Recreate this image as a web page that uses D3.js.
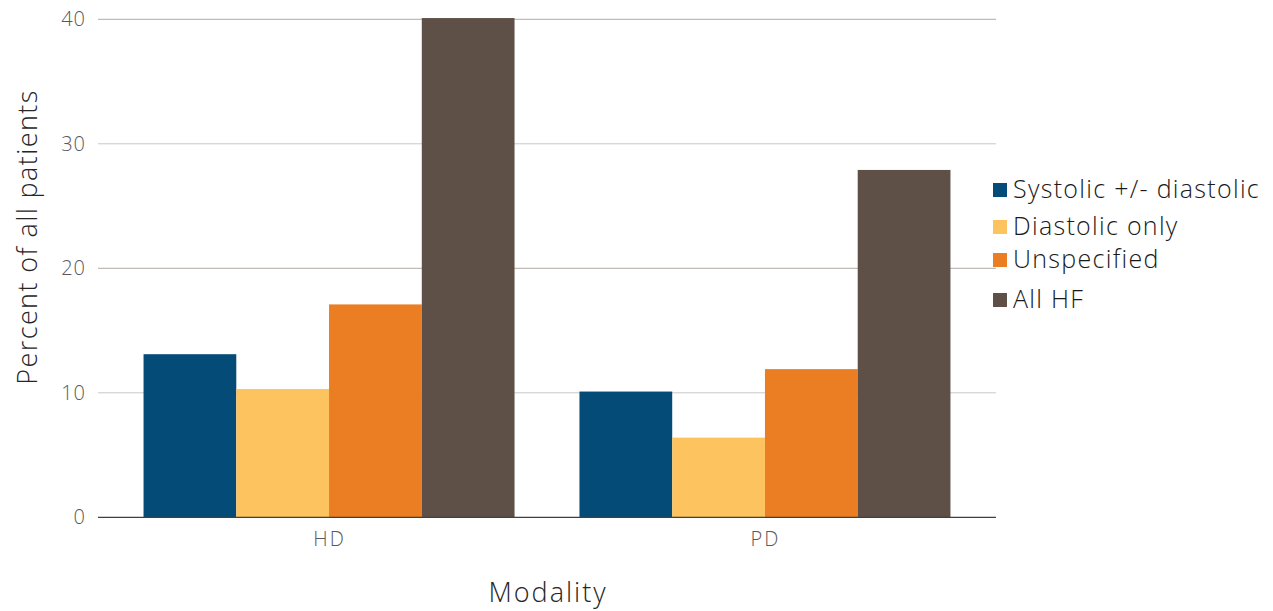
<!DOCTYPE html>
<html><head><meta charset="utf-8">
<script src="https://cdn.jsdelivr.net/npm/d3@7"></script>
<style>body{margin:0;background:#fff}svg{display:block}text{font-family:"Open Sans",sans-serif}</style>
</head><body><svg id="c" width="1273" height="611"></svg>
<script>
const categories = ["HD", "PD"];
const seriesNames = ["Systolic +/- diastolic", "Diastolic only", "Unspecified", "All HF"];
const systolic = [13.1, 10.1];
const diastolicOnly = [10.3, 6.4];
const unspecified = [17.1, 11.9];
const allHF = [40.1, 27.9];
const yTicks = [0, 10, 20, 30, 40];
const colors = ["#054b77", "#fdc35f", "#eb7d23", "#5e5047"];

const seriesValues = [systolic, diastolicOnly, unspecified, allHF];
const svg = d3.select("#c");
const plotL = 98, plotR = 996, plotT = 19.3, plotB = 517.3;

const y = d3.scaleLinear().domain([0, 40]).range([plotB, plotT]);
const x0 = d3.scalePoint().domain(categories).range([plotL, plotR]).padding(0.53);
const groupW = 371;
const x1 = d3.scaleBand().domain(seriesNames).range([-groupW/2, groupW/2]).padding(0);

// gridlines
svg.append("g").selectAll("line").data(yTicks.filter(d => d > 0)).join("line")
  .attr("x1", plotL).attr("x2", plotR)
  .attr("y1", d => y(d)).attr("y2", d => y(d))
  .attr("stroke", d => d === 40 || d === 20 ? "#b1aba5" : "#c8c8c8").attr("stroke-width", 1);

// y axis labels
const yAxis = d3.axisLeft(y).tickValues(yTicks).tickSize(0).tickPadding(12);
const ya = svg.append("g").attr("transform", `translate(${plotL},0)`).call(yAxis);
ya.select(".domain").remove();
ya.selectAll("text").attr("font-size", 20).attr("fill", "#595959").attr("font-weight", 300)
  .attr("letter-spacing", 1).attr("font-family", "'Open Sans',sans-serif");

// bars
const rows = [];
categories.forEach((c, i) => seriesNames.forEach((s, j) => rows.push({c, s, v: seriesValues[j][i], col: colors[j]})));
svg.append("g").selectAll("rect").data(rows).join("rect")
  .attr("x", d => x0(d.c) + x1(d.s))
  .attr("width", x1.bandwidth())
  .attr("y", d => y(d.v))
  .attr("height", d => y(0) - y(d.v))
  .attr("fill", d => d.col);

// x axis
const xAxis = d3.axisBottom(x0).tickSize(0).tickPadding(15);
const xa = svg.append("g").attr("transform", `translate(0,${plotB})`).call(xAxis);
xa.select(".domain").remove();
svg.append("line").attr("x1", plotL).attr("x2", plotR).attr("y1", plotB).attr("y2", plotB)
  .attr("stroke", "#404040").attr("stroke-width", 1.3);
xa.selectAll("text").attr("font-size", 20).attr("fill", "#595959").attr("font-weight", 300)
  .attr("letter-spacing", 2).attr("font-family", "'Open Sans',sans-serif");

// axis titles
svg.append("text").attr("x", 548).attr("y", 602).attr("text-anchor", "middle")
  .attr("font-size", 27).attr("font-weight", 300).attr("letter-spacing", 2)
  .attr("fill", "#262626").text("Modality");
svg.append("text").attr("transform", "translate(37,237) rotate(-90)").attr("text-anchor", "middle")
  .attr("font-size", 27).attr("font-weight", 300).attr("letter-spacing", 1.4)
  .attr("fill", "#262626").text("Percent of all patients");

// legend
const legendOffsets = [0, 37, 70, 110];
const lg = svg.append("g").attr("transform", "translate(993,183)");
seriesNames.forEach((s, i) => {
  const g = lg.append("g").attr("transform", `translate(0,${legendOffsets[i]})`);
  g.append("rect").attr("width", 14).attr("height", 14).attr("fill", colors[i]);
  g.append("text").attr("x", 20).attr("y", 15).attr("font-size", 25).attr("font-weight", 300)
    .attr("letter-spacing", 1.3).attr("fill", "#1a1a1a").text(s);
});
</script></body></html>
